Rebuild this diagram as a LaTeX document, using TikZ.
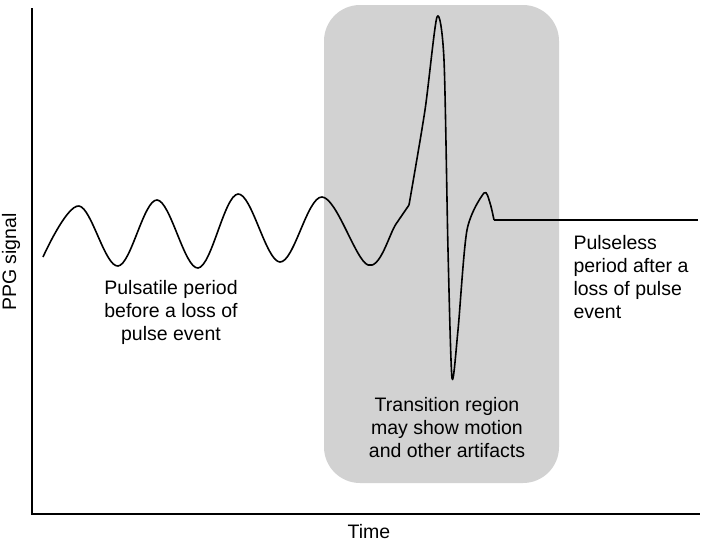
\documentclass[tikz,border=0pt]{standalone}
\usepackage{fontspec}
\setmainfont{Liberation Sans}
\begin{document}
\begin{tikzpicture}[x=1pt, y=-1pt,
    % Styles
    axis/.style={line width=1.3pt},
    wave/.style={line width=1.6pt, line join=round},
    label/.style={font=\fontsize{19.5}{23}\selectfont, align=center},
  ]
  \useasboundingbox (0,0) rectangle (704,542);

  % 1) Transition box
  \fill[gray!35, rounded corners=36pt] (324,5) rectangle (559,483);

  % 2) Axes
  \coordinate (top) at (32,8);
  \coordinate (orig) at (32,514);
  \coordinate (right) at (700,514);
  \draw[axis] (top) -- (orig) -- (right);
  \node[label] (xlab) at (369,532) {Time};
  \node[label, rotate=90] (ylab) at (11,262) {PPG signal};

  % 3) Signal
  \draw[wave] plot[smooth, tension=0.6] coordinates {(43,257) (79,206) (118,266) (157,200)
    (198,268) (238,194) (280,262) (322,197) (368,265) (396,224) (409,205)};
  \draw[wave] plot[smooth, tension=0.45] coordinates {(409,205) (425,110) (437,17) (444,60)
    (448,250) (452,378) (458,330) (467,230) (484,193) (490,203) (494,220)};
  \draw[wave] (494,220) -- (698,220);

  % 4) Labels
  \node[label] (pulsatile) at (171,312) {Pulsatile period\\before a loss of\\pulse event};
  \node[label, align=left, anchor=north west] (pulseless) at (570,232)
    {Pulseless\\period after a\\loss of pulse\\event};
  \node[label] (transition) at (447,428) {Transition region\\may show motion\\and other artifacts};
\end{tikzpicture}
\end{document}
